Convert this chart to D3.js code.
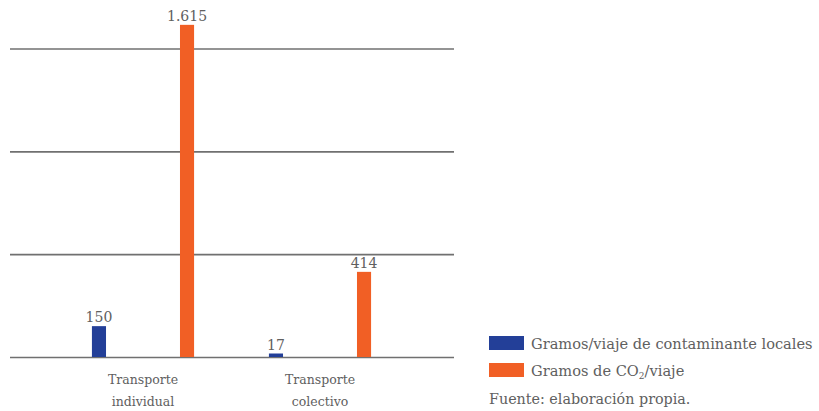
<!DOCTYPE html>
<html><head><meta charset="utf-8">
<script src="https://cdn.jsdelivr.net/npm/d3@7"></script>
<style>
html,body{margin:0;padding:0;background:#fff;}
svg text{font-family:"DejaVu Serif",serif;fill:#606060;}
</style></head>
<body><svg id="c" width="819" height="411"></svg>
<script>
const categories = ["Transporte individual", "Transporte colectivo"];
const categoryLines = [["Transporte","individual"],["Transporte","colectivo"]];
const seriesNames = ["local", "co2"];
const localValues = [150, 17];
const co2Values = [1615, 414];
const valueLabels = [["150","1.615"],["17","414"]];
const gridTicks = [0, 500, 1000, 1500];
const colors = {local:"#233f98", co2:"#f15f25"};

const svg = d3.select("#c");
const x0 = d3.scaleBand().domain(categories).range([54.5, 408.5]);
const x1 = d3.scaleBand().domain(seriesNames).range([0, x0.bandwidth()]).paddingInner(0.84).paddingOuter(0.425);
const y = d3.scaleLinear().domain([0, 1500]).range([357, 48.5]);

// gridlines
const gAxis = svg.append("g").attr("transform","translate(10,0)")
  .call(d3.axisLeft(y).tickValues(gridTicks).tickSize(-444).tickFormat(""));
gAxis.select(".domain").remove();
gAxis.selectAll(".tick line").attr("stroke","#707070").attr("stroke-width",1.6);

const data = categories.map((c,i)=>({cat:c, vals:[{s:"local",v:localValues[i],l:valueLabels[i][0]},{s:"co2",v:co2Values[i],l:valueLabels[i][1]}]}));

const groups = svg.selectAll("g.grp").data(data).enter().append("g").attr("class","grp")
  .attr("transform",d=>`translate(${x0(d.cat)},0)`);
groups.selectAll("rect").data(d=>d.vals).enter().append("rect")
  .attr("x",d=>x1(d.s)).attr("width",x1.bandwidth())
  .attr("y",d=>y(d.v)).attr("height",d=>y(0)-y(d.v))
  .attr("fill",d=>colors[d.s]);
groups.selectAll("text.val").data(d=>d.vals).enter().append("text").attr("class","val")
  .attr("x",d=>x1(d.s)+x1.bandwidth()/2).attr("y",d=>y(d.v)-4)
  .attr("text-anchor","middle").attr("font-size",14).text(d=>d.l);

// category labels
categories.forEach((c,i)=>{
  const t = svg.append("text").attr("text-anchor","middle").attr("font-size",12.5)
    .attr("x", x0(c)+x0.bandwidth()/2).attr("y",384);
  categoryLines[i].forEach((ln,j)=>t.append("tspan").attr("x",x0(c)+x0.bandwidth()/2).attr("dy",j?22:0).text(ln));
});

// legend
const leg = svg.append("g");
leg.append("rect").attr("x",489).attr("y",336).attr("width",35).attr("height",14).attr("fill",colors.local);
leg.append("text").attr("x",531).attr("y",349).attr("font-size",14.6).text("Gramos/viaje de contaminante locales");
leg.append("rect").attr("x",489).attr("y",363).attr("width",35).attr("height",14).attr("fill",colors.co2);
const t2 = leg.append("text").attr("x",531).attr("y",376).attr("font-size",14.6);
t2.append("tspan").text("Gramos de CO");
t2.append("tspan").attr("font-size",9).attr("dy",3).text("2");
t2.append("tspan").attr("dy",-3).text("/viaje");
leg.append("text").attr("x",489).attr("y",404).attr("font-size",14.3).text("Fuente: elaboración propia.");
</script></body></html>
